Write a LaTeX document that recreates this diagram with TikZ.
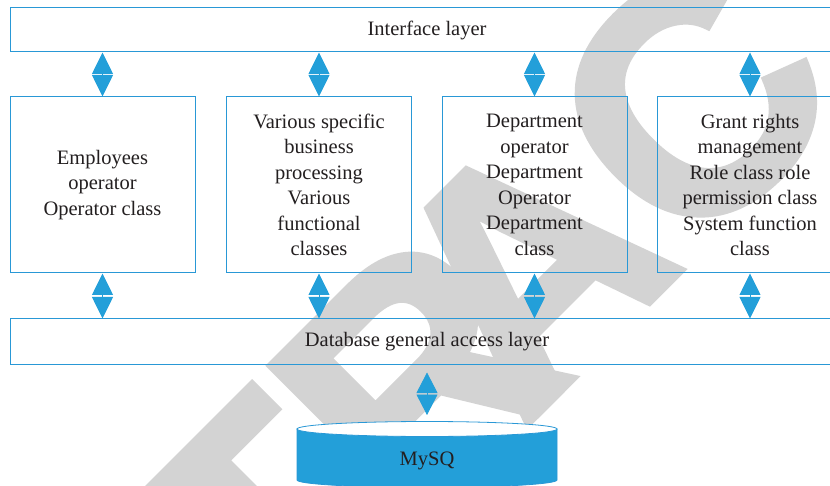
\documentclass[tikz,border=0pt]{standalone}
\usepackage{fontspec}
\setmainfont{Liberation Serif}
\newfontfamily\wmfont[BoldFeatures={FakeBold=2}]{Liberation Sans}
\usetikzlibrary{arrows.meta,calc}
\definecolor{lineblue}{RGB}{41,152,214}
\definecolor{fillblue}{RGB}{35,159,217}
\definecolor{txt}{RGB}{35,31,32}
\definecolor{wm}{RGB}{211,211,211}
\begin{document}
\begin{tikzpicture}[x=1pt,y=-1pt,
  box/.style={draw=lineblue, line width=1pt, inner sep=0pt, align=center, text=txt,
    font=\fontsize{20.5}{25.5}\selectfont},
  layer/.style={box, minimum width=834pt, minimum height=44pt},
  mid/.style={box, minimum width=185pt, minimum height=176pt},
  dbl/.style={draw=fillblue, fill=fillblue, line width=0.8pt,
    {Triangle[width=21pt,length=#1]}-{Triangle[width=21pt,length=#1]}},
  dbl/.default=21.5pt,
  wmtext/.style={text=wm, font=\wmfont\bfseries\fontsize{325}{325}\selectfont, inner sep=0pt}]
\clip (0,0) rectangle (830,486);
\fill[white] (0,0) rectangle (830,486);
% watermark
\node[wmtext, rotate=45, anchor=base west] (wmark) at (-47,999) {RETR\kern-80pt ACTED};
% layers
\node[layer] (iface) at (427,30) {Interface layer};
\node[mid] (b1) at (102.5,185) {Employees\\operator\\Operator class};
\node[mid] (b2) at (319,185) {Various specific\\business\\processing\\Various\\functional\\classes};
\node[mid] (b3) at (534.5,185) {Department\\operator\\Department\\Operator\\Department\\class};
\node[mid] (b4) at (750,185) {Grant rights\\management\\Role class role\\permission class\\System function\\class};
\node[layer, minimum height=45pt] (dbl) at (427,341.5) {Database general access layer};
% arrows
\foreach \b in {b1,b2,b3,b4}{
  \draw[dbl] (\b.north |- iface.south) -- (\b.north);
  \draw[dbl] (\b.south) -- (\b.south |- dbl.north);
}
% cylinder
\filldraw[fill=fillblue, draw=lineblue, line width=0.8pt] (297,429) -- (297,480)
  arc[start angle=180, end angle=0, x radius=130, y radius=7.5] -- (557,429) -- cycle;
\filldraw[fill=white, draw=lineblue, line width=0.8pt] (427,429) ellipse [x radius=130, y radius=7.5];
\coordinate (cyltop) at (427,421);
\node[text=txt, font=\fontsize{20.5}{24}\selectfont] (mysq) at (427,461) {MySQ};
\draw[dbl=20.5pt] ($(dbl.south)+(0,8)$) -- ($(cyltop)+(0,-6)$);
\end{tikzpicture}
\end{document}
